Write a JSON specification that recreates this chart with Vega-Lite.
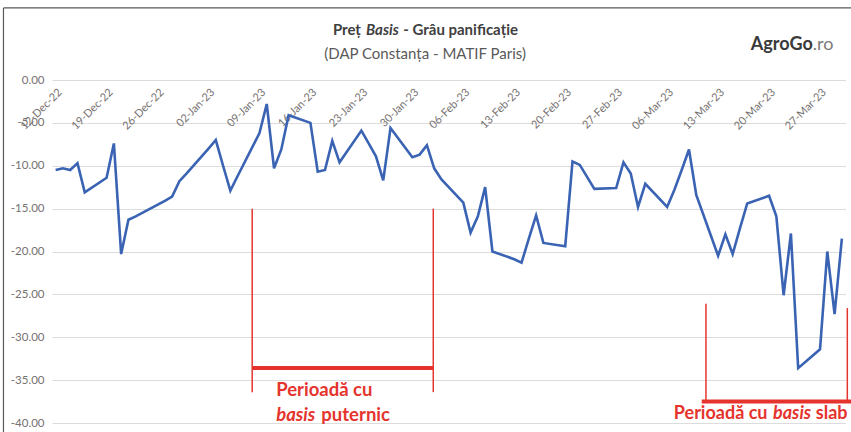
{
  "$schema": "https://vega.github.io/schema/vega-lite/v6.json",
  "width": 793.5,
  "height": 343,
  "autosize": "none",
  "padding": {"left": 52, "top": 80, "right": 5.5, "bottom": 9},
  "background": "white",
  "config": {"view": {"stroke": null}, "font": "Lato"},
  "layer": [
    {
      "data": {"values": [{"part": "frame"}]},
      "mark": {"type": "rule", "color": "#595959", "strokeWidth": 1.2},
      "encoding": {
        "x": {"datum": {"year": 2022, "month": 12, "date": 4, "hours": 20, "utc": true}},
        "y": {"datum": 8.4},
        "y2": {"datum": -50}
      }
    },
    {
      "data": {"values": [{"part": "frame"}]},
      "mark": {"type": "rule", "color": "#595959", "strokeWidth": 1.2},
      "encoding": {
        "x": {"datum": {"year": 2022, "month": 12, "date": 4, "hours": 20, "utc": true}},
        "x2": {"datum": {"year": 2023, "month": 4, "date": 10, "utc": true}},
        "y": {"datum": 8.4}
      }
    },
    {
      "data": {"values": [
        {"date": "2022-12-12", "basis": -10.5},
        {"date": "2022-12-13", "basis": -10.3},
        {"date": "2022-12-14", "basis": -10.5},
        {"date": "2022-12-15", "basis": -9.7},
        {"date": "2022-12-16", "basis": -13.1},
        {"date": "2022-12-19", "basis": -11.4},
        {"date": "2022-12-20", "basis": -7.4},
        {"date": "2022-12-21", "basis": -20.3},
        {"date": "2022-12-22", "basis": -16.3},
        {"date": "2022-12-23", "basis": -15.9},
        {"date": "2022-12-27", "basis": -14.1},
        {"date": "2022-12-28", "basis": -13.6},
        {"date": "2022-12-29", "basis": -11.8},
        {"date": "2022-12-30", "basis": -10.9},
        {"date": "2023-01-02", "basis": -8.0},
        {"date": "2023-01-03", "basis": -7.0},
        {"date": "2023-01-04", "basis": -10.0},
        {"date": "2023-01-05", "basis": -12.9},
        {"date": "2023-01-06", "basis": -11.2},
        {"date": "2023-01-09", "basis": -6.2},
        {"date": "2023-01-10", "basis": -2.8},
        {"date": "2023-01-11", "basis": -10.3},
        {"date": "2023-01-12", "basis": -8.1},
        {"date": "2023-01-13", "basis": -4.1},
        {"date": "2023-01-16", "basis": -5.0},
        {"date": "2023-01-17", "basis": -10.7},
        {"date": "2023-01-18", "basis": -10.5},
        {"date": "2023-01-19", "basis": -7.1},
        {"date": "2023-01-20", "basis": -9.6},
        {"date": "2023-01-23", "basis": -5.9},
        {"date": "2023-01-24", "basis": -7.4},
        {"date": "2023-01-25", "basis": -8.9},
        {"date": "2023-01-26", "basis": -11.7},
        {"date": "2023-01-27", "basis": -5.6},
        {"date": "2023-01-30", "basis": -9.0},
        {"date": "2023-01-31", "basis": -8.7},
        {"date": "2023-02-01", "basis": -7.6},
        {"date": "2023-02-02", "basis": -10.3},
        {"date": "2023-02-03", "basis": -11.6},
        {"date": "2023-02-06", "basis": -14.3},
        {"date": "2023-02-07", "basis": -17.8},
        {"date": "2023-02-08", "basis": -15.9},
        {"date": "2023-02-09", "basis": -12.5},
        {"date": "2023-02-10", "basis": -20.0},
        {"date": "2023-02-13", "basis": -20.9},
        {"date": "2023-02-14", "basis": -21.3},
        {"date": "2023-02-15", "basis": -18.5},
        {"date": "2023-02-16", "basis": -15.8},
        {"date": "2023-02-17", "basis": -19.0},
        {"date": "2023-02-20", "basis": -19.4},
        {"date": "2023-02-21", "basis": -9.5},
        {"date": "2023-02-22", "basis": -9.9},
        {"date": "2023-02-23", "basis": -11.3},
        {"date": "2023-02-24", "basis": -12.7},
        {"date": "2023-02-27", "basis": -12.6},
        {"date": "2023-02-28", "basis": -9.6},
        {"date": "2023-03-01", "basis": -10.9},
        {"date": "2023-03-02", "basis": -14.8},
        {"date": "2023-03-03", "basis": -12.1},
        {"date": "2023-03-06", "basis": -14.8},
        {"date": "2023-03-07", "basis": -12.8},
        {"date": "2023-03-08", "basis": -10.5},
        {"date": "2023-03-09", "basis": -8.1},
        {"date": "2023-03-10", "basis": -13.4},
        {"date": "2023-03-13", "basis": -20.5},
        {"date": "2023-03-14", "basis": -18.0},
        {"date": "2023-03-15", "basis": -20.3},
        {"date": "2023-03-16", "basis": -17.3},
        {"date": "2023-03-17", "basis": -14.4},
        {"date": "2023-03-20", "basis": -13.5},
        {"date": "2023-03-21", "basis": -15.9},
        {"date": "2023-03-22", "basis": -25.1},
        {"date": "2023-03-23", "basis": -17.9},
        {"date": "2023-03-24", "basis": -33.6},
        {"date": "2023-03-27", "basis": -31.4},
        {"date": "2023-03-28", "basis": -20.0},
        {"date": "2023-03-29", "basis": -27.3},
        {"date": "2023-03-30", "basis": -18.5}
      ]},
      "mark": {"type": "line", "color": "#3a63b3", "strokeWidth": 2.6, "strokeJoin": "miter"},
      "encoding": {
        "x": {
          "field": "date",
          "type": "temporal",
          "scale": {
            "type": "utc",
            "domain": [
              {"year": 2022, "month": 12, "date": 11, "hours": 12, "utc": true},
              {"year": 2023, "month": 3, "date": 30, "hours": 12, "utc": true}
            ]
          },
          "axis": {
            "orient": "bottom",
            "offset": -343,
            "labelAngle": -45,
            "format": "%d-%b-%y",
            "values": [
              {"year": 2022, "month": 12, "date": 12, "utc": true},
              {"year": 2022, "month": 12, "date": 19, "utc": true},
              {"year": 2022, "month": 12, "date": 26, "utc": true},
              {"year": 2023, "month": 1, "date": 2, "utc": true},
              {"year": 2023, "month": 1, "date": 9, "utc": true},
              {"year": 2023, "month": 1, "date": 16, "utc": true},
              {"year": 2023, "month": 1, "date": 23, "utc": true},
              {"year": 2023, "month": 1, "date": 30, "utc": true},
              {"year": 2023, "month": 2, "date": 6, "utc": true},
              {"year": 2023, "month": 2, "date": 13, "utc": true},
              {"year": 2023, "month": 2, "date": 20, "utc": true},
              {"year": 2023, "month": 2, "date": 27, "utc": true},
              {"year": 2023, "month": 3, "date": 6, "utc": true},
              {"year": 2023, "month": 3, "date": 13, "utc": true},
              {"year": 2023, "month": 3, "date": 20, "utc": true},
              {"year": 2023, "month": 3, "date": 27, "utc": true}
            ],
            "domain": false,
            "ticks": false,
            "grid": false,
            "title": null,
            "labelFont": "Lato",
            "labelFontSize": 11,
            "labelColor": "#767171",
            "labelPadding": 6,
            "labelOverlap": false,
            "labelBound": false,
            "labelFlush": false
          }
        },
        "y": {
          "field": "basis",
          "type": "quantitative",
          "scale": {"domain": [-40, 0], "nice": false, "zero": false},
          "axis": {
            "values": [0, -5, -10, -15, -20, -25, -30, -35, -40],
            "labelExpr": "replace(format(datum.value, '.2f'), '−', '-')",
            "domain": false,
            "ticks": false,
            "grid": true,
            "gridColor": "#dcdcdc",
            "gridWidth": 1,
            "title": null,
            "labelFont": "Lato",
            "labelFontSize": 11.5,
            "labelColor": "#767171",
            "labelPadding": 8
          }
        }
      }
    },
    {
      "data": {"values": [{"period": "basis puternic"}]},
      "mark": {"type": "rule", "color": "#e5342e", "strokeWidth": 1.5},
      "encoding": {
        "x": {"datum": {"year": 2023, "month": 1, "date": 8, "utc": true}},
        "y": {"datum": -15},
        "y2": {"datum": -36.4}
      }
    },
    {
      "data": {"values": [{"period": "basis puternic"}]},
      "mark": {"type": "rule", "color": "#e5342e", "strokeWidth": 1.5},
      "encoding": {
        "x": {"datum": {"year": 2023, "month": 2, "date": 1, "hours": 21, "utc": true}},
        "y": {"datum": -15},
        "y2": {"datum": -36.4}
      }
    },
    {
      "data": {"values": [{"period": "basis puternic"}]},
      "mark": {"type": "rule", "color": "#e5342e", "strokeWidth": 4},
      "encoding": {
        "x": {"datum": {"year": 2023, "month": 1, "date": 8, "utc": true}},
        "x2": {"datum": {"year": 2023, "month": 2, "date": 1, "hours": 21, "utc": true}},
        "y": {"datum": -33.6}
      }
    },
    {
      "data": {"values": [{"period": "basis slab"}]},
      "mark": {"type": "rule", "color": "#e5342e", "strokeWidth": 1.5},
      "encoding": {
        "x": {"datum": {"year": 2023, "month": 3, "date": 11, "hours": 8, "utc": true}},
        "y": {"datum": -26.1},
        "y2": {"datum": -37.5}
      }
    },
    {
      "data": {"values": [{"period": "basis slab"}]},
      "mark": {"type": "rule", "color": "#e5342e", "strokeWidth": 1.5},
      "encoding": {
        "x": {"datum": {"year": 2023, "month": 3, "date": 30, "hours": 18, "utc": true}},
        "y": {"datum": -26.6},
        "y2": {"datum": -37.5}
      }
    },
    {
      "data": {"values": [{"period": "basis slab"}]},
      "mark": {"type": "rule", "color": "#e5342e", "strokeWidth": 4},
      "encoding": {
        "x": {"datum": {"year": 2023, "month": 3, "date": 10, "hours": 18, "utc": true}},
        "x2": {"datum": {"year": 2023, "month": 4, "date": 5, "utc": true}},
        "y": {"datum": -37.5}
      }
    },
    {
      "data": {"values": [{"label": "Preț"}]},
      "mark": {"type": "text", "color": "#404040", "font": "Lato", "fontSize": 15, "fontWeight": "bold", "align": "left", "baseline": "alphabetic"},
      "encoding": {
        "x": {"datum": {"year": 2023, "month": 1, "date": 19, "hours": 2, "utc": true}},
        "y": {"datum": 5.25},
        "text": {"field": "label"}
      }
    },
    {
      "data": {"values": [{"label": "Basis"}]},
      "mark": {"type": "text", "color": "#404040", "font": "Lato", "fontSize": 15, "fontWeight": "bold", "fontStyle": "italic", "align": "left", "baseline": "alphabetic"},
      "encoding": {
        "x": {"datum": {"year": 2023, "month": 1, "date": 23, "hours": 15, "utc": true}},
        "y": {"datum": 5.25},
        "text": {"field": "label"}
      }
    },
    {
      "data": {"values": [{"label": "- Grâu panificație"}]},
      "mark": {"type": "text", "color": "#404040", "font": "Lato", "fontSize": 15, "fontWeight": "bold", "align": "left", "baseline": "alphabetic"},
      "encoding": {
        "x": {"datum": {"year": 2023, "month": 1, "date": 28, "hours": 18, "utc": true}},
        "y": {"datum": 5.25},
        "text": {"field": "label"}
      }
    },
    {
      "data": {"values": [{"label": "(DAP Constanța - MATIF Paris)"}]},
      "mark": {"type": "text", "color": "#595959", "font": "Lato", "fontSize": 15, "align": "center", "baseline": "alphabetic"},
      "encoding": {
        "x": {"datum": {"year": 2023, "month": 1, "date": 31, "hours": 18, "utc": true}},
        "y": {"datum": 2.4},
        "text": {"field": "label"}
      }
    },
    {
      "data": {"values": [{"label": "Perioadă cu"}]},
      "mark": {"type": "text", "color": "#e5342e", "font": "Lato", "fontSize": 18.5, "fontWeight": "bold", "align": "left", "baseline": "alphabetic"},
      "encoding": {
        "x": {"datum": {"year": 2023, "month": 1, "date": 11, "hours": 7, "utc": true}},
        "y": {"datum": -36.9},
        "text": {"field": "label"}
      }
    },
    {
      "data": {"values": [{"label": "basis"}]},
      "mark": {"type": "text", "color": "#e5342e", "font": "Lato", "fontSize": 18.5, "fontWeight": "bold", "fontStyle": "italic", "align": "left", "baseline": "alphabetic"},
      "encoding": {
        "x": {"datum": {"year": 2023, "month": 1, "date": 11, "hours": 7, "utc": true}},
        "y": {"datum": -39.8},
        "text": {"field": "label"}
      }
    },
    {
      "data": {"values": [{"label": "puternic"}]},
      "mark": {"type": "text", "color": "#e5342e", "font": "Lato", "fontSize": 18.5, "fontWeight": "bold", "align": "left", "baseline": "alphabetic"},
      "encoding": {
        "x": {"datum": {"year": 2023, "month": 1, "date": 17, "hours": 12, "utc": true}},
        "y": {"datum": -39.8},
        "text": {"field": "label"}
      }
    },
    {
      "data": {"values": [{"label": "Perioadă cu"}]},
      "mark": {"type": "text", "color": "#e5342e", "font": "Lato", "fontSize": 18, "fontWeight": "bold", "align": "left", "baseline": "alphabetic"},
      "encoding": {
        "x": {"datum": {"year": 2023, "month": 3, "date": 6, "hours": 22, "utc": true}},
        "y": {"datum": -39.5},
        "text": {"field": "label"}
      }
    },
    {
      "data": {"values": [{"label": "basis"}]},
      "mark": {"type": "text", "color": "#e5342e", "font": "Lato", "fontSize": 18, "fontWeight": "bold", "fontStyle": "italic", "align": "left", "baseline": "alphabetic"},
      "encoding": {
        "x": {"datum": {"year": 2023, "month": 3, "date": 20, "hours": 13, "utc": true}},
        "y": {"datum": -39.5},
        "text": {"field": "label"}
      }
    },
    {
      "data": {"values": [{"label": "slab"}]},
      "mark": {"type": "text", "color": "#e5342e", "font": "Lato", "fontSize": 18, "fontWeight": "bold", "align": "left", "baseline": "alphabetic"},
      "encoding": {
        "x": {"datum": {"year": 2023, "month": 3, "date": 26, "hours": 10, "utc": true}},
        "y": {"datum": -39.5},
        "text": {"field": "label"}
      }
    },
    {
      "data": {"values": [{"label": "AgroGo"}]},
      "mark": {"type": "text", "color": "#3a3a3a", "font": "Lato", "fontSize": 18, "fontWeight": "bold", "align": "right", "baseline": "alphabetic"},
      "encoding": {
        "x": {"datum": {"year": 2023, "month": 3, "date": 26, "utc": true}},
        "y": {"datum": 3.5},
        "text": {"field": "label"}
      }
    },
    {
      "data": {"values": [{"label": ".ro"}]},
      "mark": {"type": "text", "color": "#7a7a7a", "font": "Lato", "fontSize": 18, "align": "left", "baseline": "alphabetic"},
      "encoding": {
        "x": {"datum": {"year": 2023, "month": 3, "date": 26, "utc": true}},
        "y": {"datum": 3.5},
        "text": {"field": "label"}
      }
    }
  ]
}
